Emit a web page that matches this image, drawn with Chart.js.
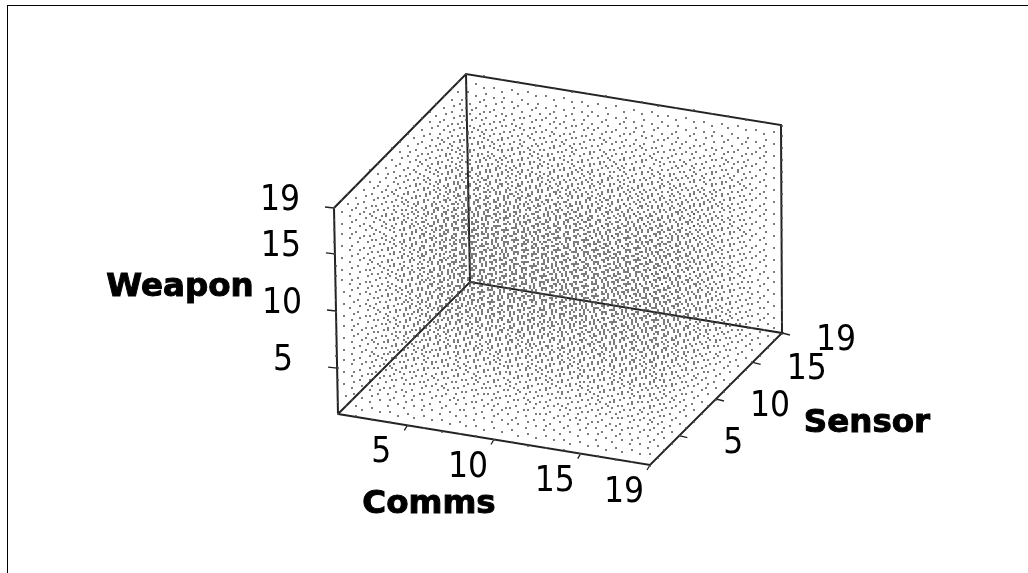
<!DOCTYPE html>
<html>
<head>
<meta charset="utf-8">
<script src="https://cdn.jsdelivr.net/npm/chart.js@4"></script>
<style>
  html, body { margin: 0; padding: 0; background: #fff; overflow: hidden; }
  #frame { position: absolute; left: 7px; top: 5px; width: 1021px; height: 568px; border-top: 1px solid #000; border-left: 1px solid #000; }
  #chart { position: absolute; left: 0; top: 0; filter: blur(0.5px); }
</style>
</head>
<body>
<canvas id="chart" width="1028" height="573"></canvas>
<div id="frame"></div>
<script>
// grid levels on each of the three axes
const comms = [1, 2, 3, 4, 5, 6, 7, 8, 9, 10, 11, 12, 13, 14, 15, 16, 17, 18, 19];
const sensor = [1, 2, 3, 4, 5, 6, 7, 8, 9, 10, 11, 12, 13, 14, 15, 16, 17, 18, 19];
const weapon = [1, 2, 3, 4, 5, 6, 7, 8, 9, 10, 11, 12, 13, 14, 15, 16, 17, 18, 19];

const tickValues = [5, 10, 15, 19];

// where the box sits on the page: origin corner and one vector per axis
const origin = [338, 414];
const commsDir = [312, 51];
const sensorDir = [132, -132];
const weaponDir = [-4, -206];
const weaponStretch = 2; // back wall is a little taller than the front edge
const topSpread = 3; // top edges run slightly wider than the floor
const dotSnap = 2; // the source was a low res plot, dots sit on its pixel grid

function project(c, s, w) {
  const a = (c - 1) / 18, b = (s - 1) / 18, d = (w - 1) / 18;
  return {
    x: origin[0] + a * commsDir[0] + b * sensorDir[0] + d * (weaponDir[0] + a * topSpread),
    y: origin[1] + a * commsDir[1] + b * sensorDir[1] + d * (weaponDir[1] - b * weaponStretch)
  };
}

const points = [];
comms.forEach(c => {
  sensor.forEach(s => {
    weapon.forEach(w => {
      const p = project(c, s, w);
      points.push({ x: Math.round(p.x / dotSnap) * dotSnap, y: Math.round(p.y / dotSnap) * dotSnap });
    });
  });
});

// box edges, null breaks the line between them
const edges = [
  [1, 1, 1], [19, 1, 1], [19, 19, 1], [1, 19, 1], [1, 1, 1], null,
  [1, 1, 1], [1, 1, 19], [1, 19, 19], [19, 19, 19], [19, 19, 1], null,
  [1, 19, 1], [1, 19, 19]
].map(p => p ? project(p[0], p[1], p[2]) : { x: null, y: null });

function tickMarks(axisPoint, dx, dy) {
  const out = [];
  tickValues.forEach(v => {
    const p = axisPoint(v);
    out.push(p, { x: p.x + dx, y: p.y + dy }, { x: null, y: null });
  });
  return out;
}

const commsAxis = v => project(v, 1, 1);
const sensorAxis = v => project(19, v, 1);
const weaponAxis = v => project(1, 1, v);

const ticks = [
  ...tickMarks(commsAxis, -3, 5),
  ...tickMarks(sensorAxis, 8, 2),
  ...tickMarks(weaponAxis, -9, -1)
];

const labelFont = "35px 'DejaVu Sans Condensed', 'DejaVu Sans'";
const titleFont = "bold 32.5px 'DejaVu Sans', sans-serif";

const textPlugin = {
  id: "axisText",
  afterDraw(chart) {
    const ctx = chart.ctx;
    const sx = chart.scales.x, sy = chart.scales.y;
    ctx.save();
    ctx.fillStyle = "#000";
    ctx.strokeStyle = "#000";
    ctx.textAlign = "center";
    ctx.textBaseline = "middle";

    ctx.font = labelFont;
    tickValues.forEach(v => {
      const c = commsAxis(v), s = sensorAxis(v), w = weaponAxis(v);
      ctx.fillText(v, sx.getPixelForValue(c.x - 26), sy.getPixelForValue(c.y + 28));
      ctx.fillText(v, sx.getPixelForValue(s.x + 54), sy.getPixelForValue(s.y + 8));
      ctx.fillText(v, sx.getPixelForValue(w.x - 54), sy.getPixelForValue(w.y - 7));
    });

    ctx.font = titleFont;
    ctx.lineWidth = 1;
    const titles = [
      ["Comms", commsAxis(10), -65, 65],
      ["Sensor", sensorAxis(10), 151, 25],
      ["Weapon", weaponAxis(10), -156, -23]
    ];
    titles.forEach(t => {
      const x = sx.getPixelForValue(t[1].x + t[2]), y = sy.getPixelForValue(t[1].y + t[3]);
      ctx.fillText(t[0], x, y);
      ctx.strokeText(t[0], x, y);
    });
    ctx.restore();
  }
};

new Chart(document.getElementById("chart"), {
  type: "scatter",
  data: {
    datasets: [
      {
        label: "grid",
        data: points,
        pointRadius: 1.0,
        pointBackgroundColor: "#505050",
        pointBorderWidth: 0,
        showLine: false
      },
      {
        label: "box",
        data: edges,
        showLine: true,
        spanGaps: false,
        borderColor: "#222",
        borderWidth: 2,
        pointRadius: 0
      },
      {
        label: "ticks",
        data: ticks,
        showLine: true,
        spanGaps: false,
        borderColor: "#222",
        borderWidth: 1.3,
        pointRadius: 0
      }
    ]
  },
  options: {
    responsive: false,
    animation: false,
    devicePixelRatio: 1,
    layout: { padding: 0, autoPadding: false },
    plugins: { legend: { display: false }, tooltip: { enabled: false } },
    scales: {
      x: { type: "linear", min: 0, max: 1028, display: false },
      y: { type: "linear", min: 0, max: 573, reverse: true, display: false }
    }
  },
  plugins: [textPlugin]
});
</script>
</body>
</html>
